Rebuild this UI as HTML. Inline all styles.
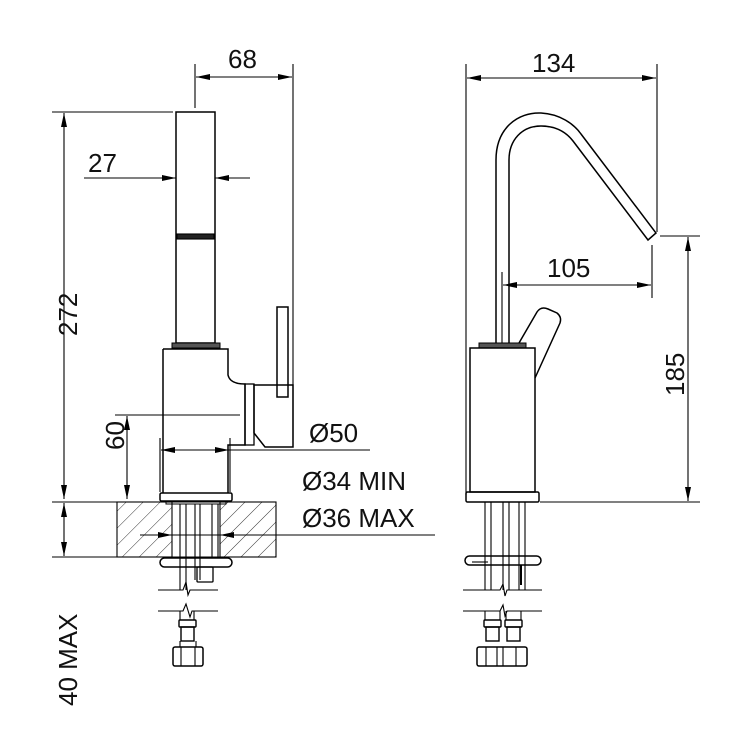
<!DOCTYPE html>
<html><head><meta charset="utf-8"><style>
html,body{margin:0;padding:0;background:#fff;}
svg{display:block}
text{font-family:"Liberation Sans",sans-serif;fill:#111;}
</style></head><body>
<svg width="753" height="736" viewBox="0 0 753 736" xmlns="http://www.w3.org/2000/svg">
<defs>
<marker id="a" viewBox="0 0 14 6" refX="14" refY="3" markerWidth="14" markerHeight="6" markerUnits="userSpaceOnUse" orient="auto-start-reverse"><path d="M0 0L14 3L0 6z" fill="#000"/></marker>
<pattern id="h" width="12" height="12" patternUnits="userSpaceOnUse" patternTransform="rotate(45)"><line x1="0" y1="0" x2="0" y2="12" stroke="#222" stroke-width="0.9"/></pattern>
</defs>
<g fill="none" stroke="#000" stroke-width="1.1">
<line x1="195" y1="64" x2="195" y2="108"/>
<line x1="293" y1="64" x2="293" y2="440"/>
<line x1="196" y1="77" x2="292" y2="77" marker-start="url(#a)" marker-end="url(#a)"/>
<line x1="84" y1="178" x2="176" y2="178" marker-end="url(#a)"/>
<line x1="250" y1="178" x2="215" y2="178" marker-end="url(#a)"/>
<line x1="52" y1="112" x2="173" y2="112"/>
<line x1="64" y1="113" x2="64" y2="499" marker-start="url(#a)" marker-end="url(#a)"/>
<rect x="176" y="112" width="39" height="231" stroke-width="1.5"/>
<rect x="177" y="234" width="37" height="5" fill="#222"/>
<rect x="172" y="343" width="48" height="5" fill="#555" stroke-width="1"/>
<path d="M163 349 L228 349 L228 375 Q230 384 245 384 L245 445 L228 445 L228 493" stroke-width="1.5"/>
<line x1="163" y1="349" x2="163" y2="493" stroke-width="1.5"/>
<rect x="245" y="384" width="9" height="61" stroke-width="1.3"/>
<path d="M254 385 L293 385 L293 447 L265 447 L254 433 Z" stroke-width="1.5"/>
<rect x="277" y="307" width="11" height="90" stroke-width="1.5"/>
<line x1="115" y1="415" x2="240" y2="415"/>
<line x1="127" y1="416" x2="127" y2="499" marker-start="url(#a)" marker-end="url(#a)"/>
<line x1="160" y1="438" x2="160" y2="492"/>
<line x1="230" y1="438" x2="230" y2="492"/>
<line x1="161" y1="450" x2="370" y2="450"/>
<line x1="185" y1="450" x2="161" y2="450" marker-end="url(#a)"/>
<line x1="205" y1="450" x2="229" y2="450" marker-end="url(#a)"/>
<rect x="160" y="493" width="72" height="8" rx="1.5" stroke-width="1.5"/>
<rect x="166" y="501" width="60" height="3" stroke-width="1"/>
<rect x="117" y="502" width="55" height="55" fill="url(#h)"/>
<rect x="220" y="502" width="56" height="55" fill="url(#h)"/>
<line x1="117" y1="502" x2="276" y2="502"/>
<line x1="117" y1="557" x2="276" y2="557"/>
<line x1="52" y1="502" x2="117" y2="502"/>
<line x1="52" y1="557" x2="117" y2="557"/>
<line x1="64" y1="503" x2="64" y2="556" marker-start="url(#a)" marker-end="url(#a)"/>
<line x1="180" y1="504" x2="180" y2="590"/><line x1="186" y1="504" x2="186" y2="590"/>
<line x1="195" y1="504" x2="195" y2="580"/><line x1="200" y1="504" x2="200" y2="580"/>
<line x1="212" y1="504" x2="212" y2="558"/><line x1="218" y1="504" x2="218" y2="558"/>
<rect x="197" y="567" width="16" height="15" rx="1" stroke-width="1.3"/>
<line x1="140" y1="535" x2="435" y2="535"/>
<line x1="150" y1="535" x2="172" y2="535" marker-end="url(#a)"/>
<line x1="243" y1="535" x2="220" y2="535" marker-end="url(#a)"/>
<rect x="160" y="558" width="72" height="9" rx="4.5" stroke-width="1.5"/>
<path d="M158 590 L183 590 L186 582 L188 595 L190 590 L218 590"/>
<path d="M158 611 L183 611 L186 604 L190 617 L192 611 L218 611"/>
<line x1="180" y1="611" x2="180" y2="620"/><line x1="194" y1="611" x2="194" y2="620"/>
<rect x="179" y="620" width="17" height="7" rx="1" stroke-width="1.4"/>
<rect x="181" y="627" width="13" height="14" stroke-width="1.4"/>
<rect x="173" y="647" width="30" height="19" rx="2" stroke-width="1.5"/>
<line x1="181" y1="647" x2="181" y2="666"/><line x1="195" y1="647" x2="195" y2="666"/>
<line x1="180" y1="641" x2="180" y2="647"/><line x1="196" y1="641" x2="196" y2="647"/>

<line x1="466" y1="64" x2="466" y2="495"/>
<line x1="657" y1="64" x2="657" y2="232"/>
<line x1="467" y1="78" x2="656" y2="78" marker-start="url(#a)" marker-end="url(#a)"/>
<path d="M496 343 L496 160 C496 128 518 112 541 113 C560 114 574 124 581 134 L656 233 L648 240 L573 141 C566 132 556 126 541 126 C522 126 509 140 509 160 L509 343" stroke-width="1.5"/>
<line x1="502" y1="272" x2="502" y2="343"/>
<line x1="652" y1="245" x2="652" y2="298"/>
<line x1="503" y1="285" x2="651" y2="285" marker-start="url(#a)" marker-end="url(#a)"/>
<path d="M519 343 L537 312 Q541 306 548 309 L557 313 Q562 317 560 323 L535 378" stroke-width="1.5"/>
<rect x="479" y="343" width="47" height="5" fill="#555" stroke-width="1"/>
<rect x="470" y="348" width="65" height="144" stroke-width="1.5"/>
<rect x="466" y="492" width="73" height="10" rx="1.5" stroke-width="1.5"/>
<line x1="660" y1="236" x2="700" y2="236"/>
<line x1="540" y1="502" x2="700" y2="502"/>
<line x1="688" y1="237" x2="688" y2="501" marker-start="url(#a)" marker-end="url(#a)"/>
<line x1="485" y1="502" x2="485" y2="590"/><line x1="491" y1="502" x2="491" y2="590"/>
<line x1="503" y1="502" x2="503" y2="590"/><line x1="509" y1="502" x2="509" y2="590"/>
<line x1="519" y1="502" x2="519" y2="590"/><line x1="525" y1="502" x2="525" y2="590"/>
<rect x="465" y="556" width="76" height="9" rx="4.5" stroke-width="1.5"/>
<line x1="472" y1="562" x2="488" y2="562"/>
<line x1="521" y1="565" x2="521" y2="585" stroke-width="2"/>
<path d="M463 590 L500 590 L503 584 L505 596 L507 590 L542 590"/>
<path d="M463 611 L500 611 L503 605 L505 616 L507 611 L542 611"/>
<line x1="485" y1="611" x2="485" y2="620"/><line x1="500" y1="611" x2="500" y2="620"/>
<line x1="506" y1="611" x2="506" y2="620"/><line x1="521" y1="611" x2="521" y2="620"/>
<rect x="484" y="620" width="17" height="7" rx="1" stroke-width="1.4"/>
<rect x="505" y="620" width="17" height="7" rx="1" stroke-width="1.4"/>
<rect x="486" y="627" width="13" height="14" stroke-width="1.4"/>
<rect x="507" y="627" width="13" height="14" stroke-width="1.4"/>
<rect x="477" y="647" width="50" height="19" rx="2" stroke-width="1.5"/>
<line x1="486" y1="647" x2="486" y2="666"/><line x1="497" y1="647" x2="497" y2="666"/>
<line x1="503" y1="647" x2="503" y2="666"/><line x1="516" y1="647" x2="516" y2="666"/>
</g>
<g font-size="26">
<text x="228" y="68">68</text>
<text x="88" y="172">27</text>
<text x="532" y="72">134</text>
<text x="547" y="277">105</text>
<text x="309" y="442">Ø50</text>
<text x="302" y="490">Ø34 MIN</text>
<text x="302" y="527">Ø36 MAX</text>
<text transform="translate(77,336) rotate(-90)">272</text>
<text transform="translate(124,450) rotate(-90)">60</text>
<text transform="translate(77,706) rotate(-90)">40 MAX</text>
<text transform="translate(684,396) rotate(-90)">185</text>
</g>
</svg>
</body></html>
